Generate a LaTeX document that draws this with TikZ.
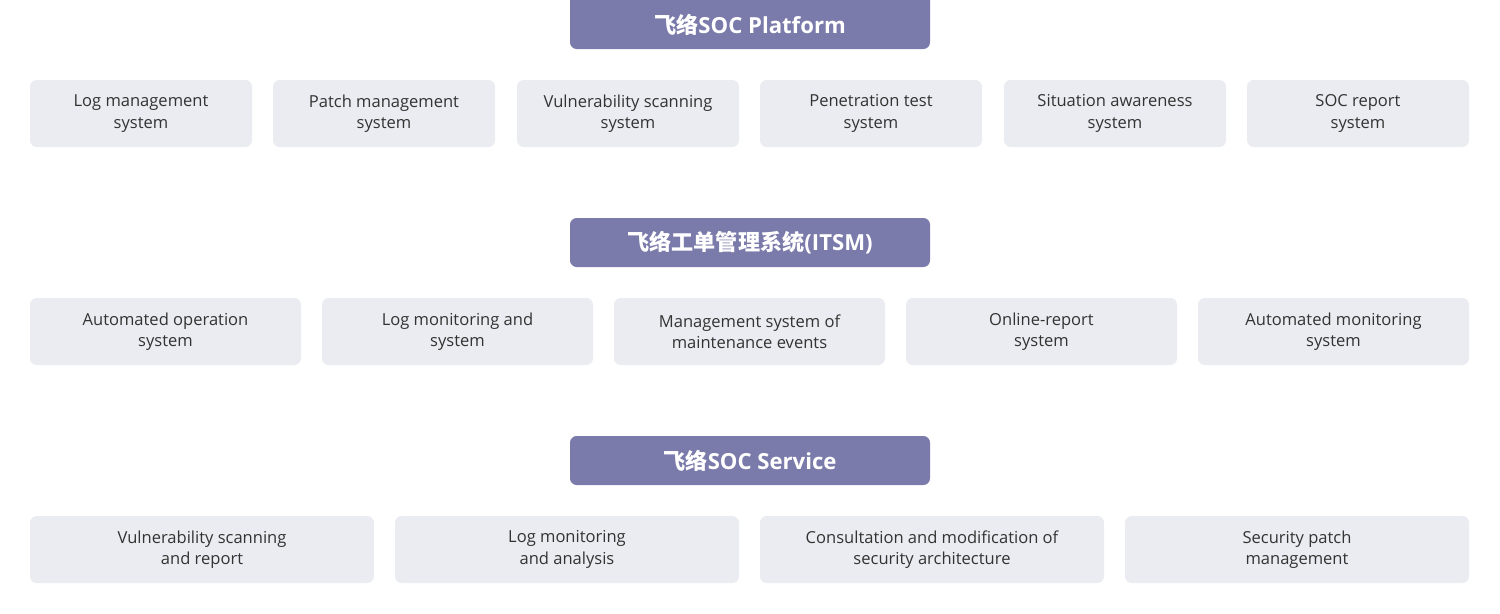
\documentclass[tikz,border=0pt]{standalone}
\usepackage{fontspec}
\setmainfont{Open Sans}
\newfontfamily\cjk{Noto Sans CJK SC}
\definecolor{hdr}{HTML}{7B7BAB}
\definecolor{boxc}{HTML}{EBECF1}
\definecolor{txt}{HTML}{333333}
\begin{document}
\begin{tikzpicture}[x=0.75pt,y=-0.75pt,
  hdrtext/.style={text=white,font=\fontsize{16.6}{19}\selectfont\bfseries,inner sep=0pt},
  itembox/.style={fill=boxc,rounded corners=5pt,text=txt,align=center,
    font=\fontsize{12.4}{16}\selectfont,minimum height=67*0.75pt,inner sep=0pt}]
\useasboundingbox (0,0) rectangle (1500,614);
% header 1
\fill[hdr,rounded corners=5pt] (570,-10) rectangle (930,49);
\node[hdrtext] (h1) at (750,24.5) {{\cjk\bfseries 飞络}SOC Platform};
% header 2
\fill[hdr,rounded corners=5pt] (570,218) rectangle (930,267);
\node[hdrtext] (h2) at (750,242.5) {{\cjk\bfseries 飞络工单管理系统}(ITSM)};
% header 3
\fill[hdr,rounded corners=5pt] (570,436) rectangle (930,485);
\node[hdrtext] (h3) at (750,460.5) {{\cjk\bfseries 飞络}SOC Service};
% row 1
\foreach \x/\t [count=\i] in {141/{Log management\\system},384/{Patch management\\system},628/{Vulnerability scanning\\system},871/{Penetration test\\system},1115/{Situation awareness\\system},1358/{SOC report\\system}}
  \node[itembox,minimum width=222*0.75pt] (a\i) at (\x,113.5) {\t};
% row 2
\foreach \x/\t [count=\i] in {165.5/{Automated operation\\system},457.5/{Log monitoring and\\system},749.5/{Management system of\\maintenance events},1041.5/{Online-report\\system},1333.5/{Automated monitoring\\system}}
  \node[itembox,minimum width=271*0.75pt] (b\i) at (\x,331.5) {\t};
% row 3
\foreach \x/\t [count=\i] in {202/{Vulnerability scanning\\and report},567/{Log monitoring\\and analysis},932/{Consultation and modification of\\security architecture},1297/{Security patch\\management}}
  \node[itembox,minimum width=344*0.75pt] (c\i) at (\x,549.5) {\t};
\end{tikzpicture}
\end{document}
